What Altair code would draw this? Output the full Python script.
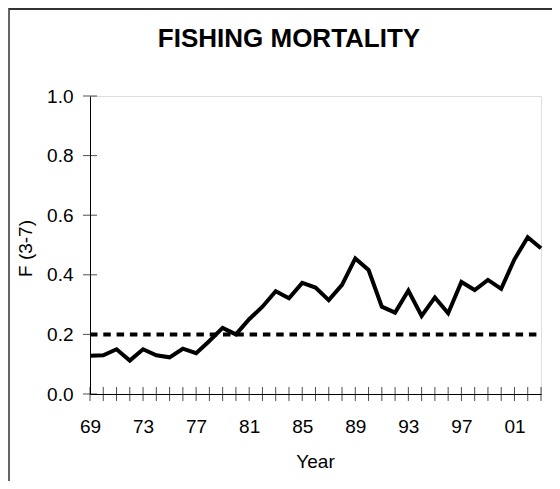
import altair as alt
import pandas as pd

title_text = ["FISHING MORTALITY"]
years = list(range(1969, 2004))
f_values = [0.128, 0.130, 0.150, 0.112, 0.150, 0.130, 0.123, 0.152, 0.137, 0.178,
            0.222, 0.200, 0.251, 0.293, 0.345, 0.321, 0.373, 0.357, 0.315, 0.366,
            0.455, 0.416, 0.293, 0.273, 0.347, 0.262, 0.324, 0.271, 0.376, 0.349,
            0.383, 0.353, 0.452, 0.526, 0.489]
ref_years = [1969, 2003]
ref_level = [0.2, 0.2]
x_label_years = [1969, 1973, 1977, 1981, 1985, 1989, 1993, 1997, 2001]
y_ticks = [0.0, 0.2, 0.4, 0.6, 0.8, 1.0]

df = pd.DataFrame({"Year": years, "F": f_values})
ref_df = pd.DataFrame({"Year": ref_years, "F": ref_level})
xt_df = pd.DataFrame({"Year": years, "F": [0.0] * len(years)})
yt_df = pd.DataFrame({"Year": [1969] * len(y_ticks), "F": y_ticks})
title_df = pd.DataFrame({"t": title_text})

FONT = "Liberation Sans"

xscale = alt.Scale(domain=[1969, 2003], nice=False, zero=False)
yscale = alt.Scale(domain=[0, 1], nice=False)

xenc = alt.X("Year:Q", scale=xscale, axis=alt.Axis(
    values=x_label_years, labelExpr="substring(toString(datum.value), 2)",
    ticks=False, tickSize=0, grid=False, domain=True, domainColor="black", domainWidth=1,
    labelFont=FONT, labelFontSize=19, labelColor="black", labelPadding=23,
    labelBaseline="top", labelFlush=False, labelOverlap=False,
    title="Year", titleFont=FONT, titleFontSize=19, titleFontWeight="normal",
    titleColor="black", titleX=225, titleY=73, titleBaseline="alphabetic", titleAlign="center"))
yenc = alt.Y("F:Q", scale=yscale, axis=alt.Axis(
    values=y_ticks, format=".1f", ticks=False, tickSize=0, grid=False,
    domain=True, domainColor="black", domainWidth=1,
    labelFont=FONT, labelFontSize=19, labelColor="black", labelPadding=17,
    labelFlush=False, labelOverlap=False,
    title="F (3-7)", titleFont=FONT, titleFontSize=19, titleFontWeight="normal",
    titleColor="black", titleX=-65, titleY=152, titleAngle=270,
    titleAlign="center", titleBaseline="middle"))

line = alt.Chart(df).mark_line(color="black", strokeWidth=4, strokeJoin="miter").encode(x=xenc, y=yenc)
ref = alt.Chart(ref_df).mark_line(color="black", strokeWidth=4, strokeDash=[7.5, 5.8]).encode(
    x=alt.X("Year:Q", scale=xscale), y=alt.Y("F:Q", scale=yscale))
xticks = alt.Chart(xt_df).mark_tick(color="black", orient="vertical", size=14, thickness=1).encode(
    x=alt.X("Year:Q", scale=xscale), y=alt.Y("F:Q", scale=yscale))
yticks = alt.Chart(yt_df).mark_tick(color="black", orient="horizontal", size=14, thickness=1).encode(
    x=alt.X("Year:Q", scale=xscale), y=alt.Y("F:Q", scale=yscale))
frame_left = alt.Chart(title_df).mark_rule(color="#111", strokeWidth=1.3).encode(
    x=alt.value(-81), y=alt.value(-88), y2=alt.value(400))
frame_top = alt.Chart(title_df).mark_rule(color="#333", strokeWidth=2).encode(
    x=alt.value(-81), x2=alt.value(470), y=alt.value(-87))
title = alt.Chart(title_df).mark_text(font=FONT, fontSize=26, fontWeight="bold", color="black",
                                      align="center", baseline="alphabetic").encode(
    text="t:N", x=alt.value(199), y=alt.value(-49))

chart = alt.layer(frame_left, frame_top, ref, line, xticks, yticks, title).properties(
    width=451, height=298,
    autosize=alt.AutoSizeParams(type="none"),
    padding={"left": 82, "top": 88, "right": 11, "bottom": 87},
).configure_view(stroke=None).configure(background="white")

chart.save("out.html", embed_options={"renderer": "svg", "actions": False})
